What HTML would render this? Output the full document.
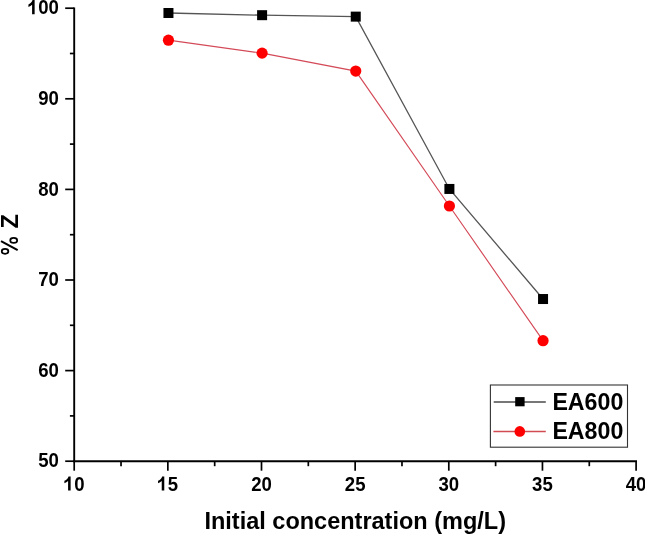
<!DOCTYPE html>
<html><head><meta charset="utf-8"><style>
html,body{margin:0;padding:0;background:#fff;}
body{width:645px;height:534px;overflow:hidden;}
svg{display:block;will-change:transform;}
text{font-family:"Liberation Sans",sans-serif;font-weight:bold;fill:#000;}
</style></head><body>
<svg width="645" height="534" viewBox="0 0 645 534">
<line x1="74.2" y1="7.4" x2="74.2" y2="462.2" stroke="#000" stroke-width="1.9"/>
<line x1="73.2" y1="461.2" x2="637" y2="461.2" stroke="#000" stroke-width="1.9"/>
<line x1="65.2" y1="461.20" x2="74.2" y2="461.20" stroke="#000" stroke-width="1.7"/>
<g transform="translate(38.21,467.30) scale(1,1.1)"><text x="0.00" y="0" style="font-size:18.6px">50</text></g>
<line x1="65.2" y1="370.60" x2="74.2" y2="370.60" stroke="#000" stroke-width="1.7"/>
<g transform="translate(38.21,376.70) scale(1,1.1)"><text x="0.00" y="0" style="font-size:18.6px">60</text></g>
<line x1="65.2" y1="280.00" x2="74.2" y2="280.00" stroke="#000" stroke-width="1.7"/>
<g transform="translate(38.21,286.10) scale(1,1.1)"><text x="0.00" y="0" style="font-size:18.6px">70</text></g>
<line x1="65.2" y1="189.40" x2="74.2" y2="189.40" stroke="#000" stroke-width="1.7"/>
<g transform="translate(38.21,195.50) scale(1,1.1)"><text x="0.00" y="0" style="font-size:18.6px">80</text></g>
<line x1="65.2" y1="98.80" x2="74.2" y2="98.80" stroke="#000" stroke-width="1.7"/>
<g transform="translate(38.21,104.90) scale(1,1.1)"><text x="0.00" y="0" style="font-size:18.6px">90</text></g>
<line x1="65.2" y1="8.20" x2="74.2" y2="8.20" stroke="#000" stroke-width="1.7"/>
<g transform="translate(27.87,14.30) scale(1,1.1)"><path transform="translate(0.00,0) scale(0.009082,-0.008810)" d="M745 0H465V990Q300 840 60 760V1010Q190 1055 330 1180Q470 1310 515 1466H745Z"/><text x="10.34" y="0" style="font-size:18.6px">00</text></g>
<line x1="69.9" y1="415.90" x2="74.2" y2="415.90" stroke="#000" stroke-width="1.7"/>
<line x1="69.9" y1="325.30" x2="74.2" y2="325.30" stroke="#000" stroke-width="1.7"/>
<line x1="69.9" y1="234.70" x2="74.2" y2="234.70" stroke="#000" stroke-width="1.7"/>
<line x1="69.9" y1="144.10" x2="74.2" y2="144.10" stroke="#000" stroke-width="1.7"/>
<line x1="69.9" y1="53.50" x2="74.2" y2="53.50" stroke="#000" stroke-width="1.7"/>
<line x1="74.20" y1="461.2" x2="74.20" y2="470.7" stroke="#000" stroke-width="1.7"/>
<g transform="translate(63.86,490.60) scale(1,1.1)"><path transform="translate(0.00,0) scale(0.009082,-0.008810)" d="M745 0H465V990Q300 840 60 760V1010Q190 1055 330 1180Q470 1310 515 1466H745Z"/><text x="10.34" y="0" style="font-size:18.6px">0</text></g>
<line x1="167.85" y1="461.2" x2="167.85" y2="470.7" stroke="#000" stroke-width="1.7"/>
<g transform="translate(157.51,490.60) scale(1,1.1)"><path transform="translate(0.00,0) scale(0.009082,-0.008810)" d="M745 0H465V990Q300 840 60 760V1010Q190 1055 330 1180Q470 1310 515 1466H745Z"/><text x="10.34" y="0" style="font-size:18.6px">5</text></g>
<line x1="261.50" y1="461.2" x2="261.50" y2="470.7" stroke="#000" stroke-width="1.7"/>
<g transform="translate(251.16,490.60) scale(1,1.1)"><text x="0.00" y="0" style="font-size:18.6px">20</text></g>
<line x1="355.15" y1="461.2" x2="355.15" y2="470.7" stroke="#000" stroke-width="1.7"/>
<g transform="translate(344.81,490.60) scale(1,1.1)"><text x="0.00" y="0" style="font-size:18.6px">25</text></g>
<line x1="448.80" y1="461.2" x2="448.80" y2="470.7" stroke="#000" stroke-width="1.7"/>
<g transform="translate(438.46,490.60) scale(1,1.1)"><text x="0.00" y="0" style="font-size:18.6px">30</text></g>
<line x1="542.45" y1="461.2" x2="542.45" y2="470.7" stroke="#000" stroke-width="1.7"/>
<g transform="translate(532.11,490.60) scale(1,1.1)"><text x="0.00" y="0" style="font-size:18.6px">35</text></g>
<line x1="636.10" y1="461.2" x2="636.10" y2="470.7" stroke="#000" stroke-width="1.7"/>
<g transform="translate(625.76,490.60) scale(1,1.1)"><text x="0.00" y="0" style="font-size:18.6px">40</text></g>
<line x1="121.03" y1="461.2" x2="121.03" y2="466.2" stroke="#000" stroke-width="1.7"/>
<line x1="214.68" y1="461.2" x2="214.68" y2="466.2" stroke="#000" stroke-width="1.7"/>
<line x1="308.32" y1="461.2" x2="308.32" y2="466.2" stroke="#000" stroke-width="1.7"/>
<line x1="401.98" y1="461.2" x2="401.98" y2="466.2" stroke="#000" stroke-width="1.7"/>
<line x1="495.62" y1="461.2" x2="495.62" y2="466.2" stroke="#000" stroke-width="1.7"/>
<line x1="589.28" y1="461.2" x2="589.28" y2="466.2" stroke="#000" stroke-width="1.7"/>
<text transform="translate(355.20,528.70) scale(1,1.04)" x="0" y="0" text-anchor="middle" style="font-size:23.5px">Initial concentration (mg/L)</text>
<text transform="translate(17.80,228.40) rotate(-90) scale(1,1.04)" x="0" y="0" text-anchor="start" style="font-size:23.5px">Z</text>
<ellipse cx="13.7" cy="240.4" rx="3.45" ry="2.45" fill="none" stroke="#000" stroke-width="1.75"/>
<ellipse cx="5.05" cy="251.3" rx="3.3" ry="2.45" fill="none" stroke="#000" stroke-width="1.75"/>
<line x1="1.0" y1="241.2" x2="17.7" y2="250.2" stroke="#000" stroke-width="2.1"/>
<polyline points="168.45,13.00 262.10,15.18 355.75,16.63 449.40,188.95 543.05,299.03" fill="none" stroke="#555" stroke-width="1.3"/>
<polyline points="168.45,40.18 262.10,53.14 355.75,71.08 449.40,205.98 543.05,340.70" fill="none" stroke="#d44a58" stroke-width="1.15"/>
<rect x="163.45" y="8.00" width="10" height="10" fill="#000"/>
<rect x="257.10" y="10.18" width="10" height="10" fill="#000"/>
<rect x="350.75" y="11.63" width="10" height="10" fill="#000"/>
<rect x="444.40" y="183.95" width="10" height="10" fill="#000"/>
<rect x="538.05" y="294.03" width="10" height="10" fill="#000"/>
<circle cx="168.45" cy="40.18" r="5.6" fill="#f00"/>
<circle cx="262.10" cy="53.14" r="5.6" fill="#f00"/>
<circle cx="355.75" cy="71.08" r="5.6" fill="#f00"/>
<circle cx="449.40" cy="205.98" r="5.6" fill="#f00"/>
<circle cx="543.05" cy="340.70" r="5.6" fill="#f00"/>
<rect x="490.4" y="385" width="137.1" height="62.2" fill="none" stroke="#333" stroke-width="1.1"/>
<line x1="493.7" y1="402" x2="545.8" y2="402" stroke="#777" stroke-width="1.8"/>
<rect x="515.2" y="397.1" width="9.4" height="9.2" fill="#000"/>
<line x1="493.4" y1="431.4" x2="545.8" y2="431.4" stroke="#d24a52" stroke-width="1.5"/>
<circle cx="519.8" cy="431.4" r="5.3" fill="#f00"/>
<text transform="translate(552.40,409.60) scale(1,1.04)" x="0" y="0" text-anchor="start" style="font-size:23.2px">EA600</text>
<text transform="translate(552.40,438.80) scale(1,1.04)" x="0" y="0" text-anchor="start" style="font-size:23.2px">EA800</text>
</svg>
</body></html>
